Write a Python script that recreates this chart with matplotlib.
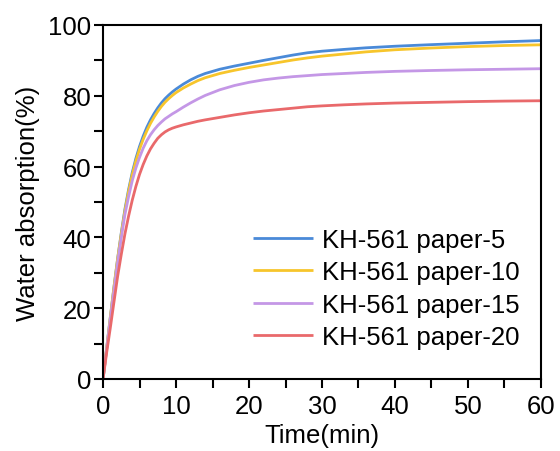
import matplotlib
matplotlib.use('Agg')
import matplotlib.pyplot as plt
from matplotlib.ticker import MultipleLocator

plt.rcParams['font.family'] = ['Liberation Sans', 'DejaVu Sans']

# time points (min)
time = [0, 0.5, 1, 1.5, 2, 2.5, 3, 3.5, 4, 4.5, 5, 5.5, 6, 6.5, 7, 7.5, 8, 8.5, 9, 9.5, 10,
        11, 12, 13, 14, 16, 18, 20, 22, 24, 26, 28, 30, 33, 36, 40, 45, 50, 55, 60]

# water absorption (%) for each sample
paper_5 = [0, 8.8, 17.5, 26, 34, 41.3, 48, 53.5, 58.3, 62.3, 65.7, 68.6, 71.1, 73.2, 75, 76.6, 78, 79.2, 80.2, 81.1, 81.9,
           83.3, 84.5, 85.5, 86.3, 87.5, 88.4, 89.2, 90.0, 90.75, 91.5, 92.15, 92.6, 93.1, 93.55, 94.0, 94.45, 94.85, 95.25, 95.6]
paper_10 = [0, 8.8, 17.5, 26, 34, 41, 47.5, 53, 57.7, 61.6, 64.9, 67.7, 70.1, 72.2, 74, 75.6, 77, 78.2, 79.2, 80.1, 80.9,
            82.2, 83.3, 84.3, 85.1, 86.3, 87.2, 88.0, 88.7, 89.4, 90.1, 90.7, 91.2, 91.8, 92.4, 93.0, 93.5, 93.9, 94.2, 94.4]
paper_15 = [0, 8.5, 17, 25, 33, 40, 46.5, 51.5, 56, 59.6, 62.6, 65.2, 67.3, 69, 70.4, 71.6, 72.6, 73.5, 74.2, 74.9, 75.5,
            76.8, 78.0, 79.1, 80.1, 81.7, 82.9, 83.8, 84.5, 85.0, 85.4, 85.7, 86.0, 86.3, 86.6, 86.9, 87.15, 87.35, 87.5, 87.65]
paper_20 = [0, 7.5, 14.5, 21.8, 29, 35.2, 41, 46, 50.5, 54.4, 57.8, 60.6, 63, 65, 66.6, 68, 69, 69.8, 70.4, 70.85, 71.2,
            71.8, 72.3, 72.8, 73.2, 73.9, 74.6, 75.2, 75.7, 76.1, 76.5, 76.9, 77.15, 77.45, 77.7, 77.95, 78.15, 78.35, 78.5, 78.6]

labels = ['KH-561 paper-5', 'KH-561 paper-10', 'KH-561 paper-15', 'KH-561 paper-20']
colors = ['#4A8AD8', '#F7C52B', '#C497E6', '#E9696B']

fig = plt.figure(figsize=(5.6, 4.52), dpi=100)
ax = fig.add_axes([0.184, 0.1593, 0.782, 0.7832])

for ys, lab, c in zip([paper_5, paper_10, paper_15, paper_20], labels, colors):
    ax.plot(time, ys, color=c, lw=2, label=lab, solid_capstyle='butt')

ax.set_xlim(0, 60)
ax.set_ylim(0, 100)
ax.xaxis.set_major_locator(MultipleLocator(10))
ax.xaxis.set_minor_locator(MultipleLocator(5))
ax.yaxis.set_major_locator(MultipleLocator(20))
ax.yaxis.set_minor_locator(MultipleLocator(10))
ax.tick_params(which='both', direction='out', length=6.5, width=1.5, labelsize=18.5)
ax.tick_params(axis='x', pad=4)
ax.tick_params(axis='y', pad=2)
for s in ax.spines.values():
    s.set_linewidth(1.5)

ax.set_xlabel('Time(min)', fontsize=18.5, labelpad=4)
ax.set_ylabel('Water absorption(%)', fontsize=18.5, labelpad=6)

ax.legend(loc='lower left', bbox_to_anchor=(0.32, 0.055), frameon=False, fontsize=18.5,
          handlelength=2.3, handletextpad=0.35, labelspacing=0.33, borderaxespad=0)

fig.savefig('out.png', dpi=100)
